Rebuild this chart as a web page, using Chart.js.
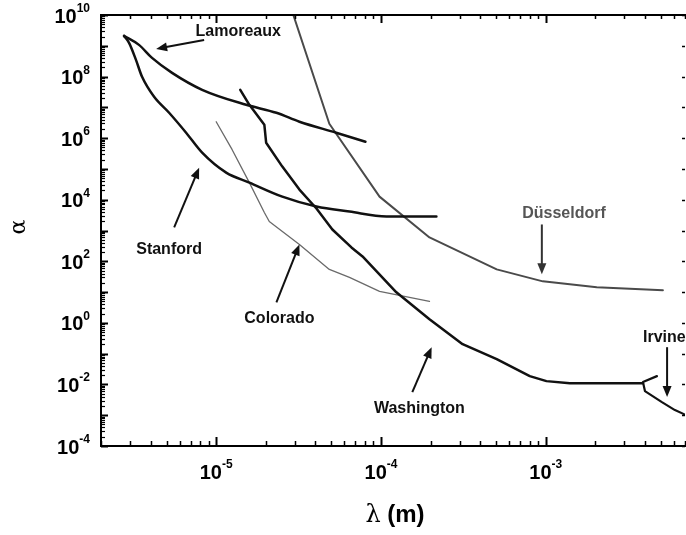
<!DOCTYPE html>
<html><head><meta charset="utf-8">
<script src="https://cdn.jsdelivr.net/npm/chart.js@4"></script>
<style>html,body{margin:0;padding:0;background:#fff}</style>
</head><body>
<canvas id="c" width="686" height="535"></canvas>
<script>
// ---- data ----
const lamoreauxX = [2.76e-6, 3.40e-6, 4.08e-6, 5.40e-6, 8.22e-6, 1.52e-5, 2.32e-5, 3.20e-5, 5.35e-5, 8.05e-5];
const lamoreauxY = [2.09e9, 1.07e9, 4.04e8, 1.32e8, 3.72e7, 1.21e7, 6.67e6, 3.41e6, 1.50e6, 7.67e5];

const stanfordX = [2.76e-6, 2.96e-6, 3.26e-6, 3.55e-6, 4.20e-6, 5.18e-6, 6.57e-6, 8.22e-6, 1.15e-5, 1.59e-5, 2.52e-5, 4.06e-5, 6.44e-5, 1.08e-4, 2.17e-4];
const stanfordY = [2.09e9, 1.24e9, 3.48e8, 9.8e7, 2.2e7, 6.67e6, 1.50e6, 3.37e5, 7.59e4, 3.60e4, 1.26e4, 6.0e3, 4.13e3, 2.85e3, 2.85e3];

const washingtonX = [1.40e-5, 1.59e-5, 1.96e-5, 2.01e-5, 2.52e-5, 3.20e-5, 4.06e-5, 5.07e-5, 6.62e-5, 7.73e-5, 1.24e-4, 1.97e-4, 3.13e-4, 5.04e-4, 8.0e-4, 1.01e-3, 1.40e-3, 3.89e-3];
const washingtonY = [3.72e7, 1.21e7, 2.73e6, 7.11e5, 1.19e5, 2.13e4, 5.17e3, 1.08e3, 282, 144, 9.8, 1.31, 0.203, 0.066, 0.0186, 0.0128, 0.0110, 0.0110];

const irvineX = [4.73e-3, 3.89e-3, 4.0e-3, 5.07e-3, 6.08e-3, 7.1e-3];
const irvineY = [0.0186, 0.0119, 6.07e-3, 2.67e-3, 1.47e-3, 1.01e-3];

const coloradoX = [1.0e-5, 1.25e-5, 1.59e-5, 1.96e-5, 2.10e-5, 3.20e-5, 4.86e-5, 6.44e-5, 9.8e-5, 1.97e-4];
const coloradoY = [3.41e6, 4.22e5, 3.60e4, 3.84e3, 1.96e3, 352, 54.6, 30, 10.6, 5.0];

const dusseldorfX = [2.94e-5, 4.86e-5, 9.8e-5, 1.97e-4, 5.04e-4, 9.6e-4, 2.04e-3, 5.14e-3];
const dusseldorfY = [1e10, 2.94e6, 1.26e4, 594, 54.6, 22.3, 14.3, 11.4];

// tick labels (exponents of ten)
const xTickExponents = [-5, -4, -3];
const yTickExponents = [10, 8, 6, 4, 2, 0, -2, -4];

// annotation labels with arrows (in data coordinates)
const annotations = [
  {text: 'Lamoreaux', x: 1.36e-5, y: 3.03e9, from: [8.45e-6, 1.55e9], to: [4.32e-6, 7.9e8], color: '#111', align: 'center'},
  {text: 'Stanford', x: 5.18e-6, y: 261, from: [5.56e-6, 1253], to: [7.88e-6, 1.1e5], color: '#111', align: 'center'},
  {text: 'Colorado', x: 2.42e-5, y: 1.52, from: [2.32e-5, 4.65], to: [3.2e-5, 352], color: '#111', align: 'center'},
  {text: 'Washington', x: 1.71e-4, y: 1.71e-3, from: [1.55e-4, 5.63e-3], to: [2.03e-4, 0.162], color: '#111', align: 'center'},
  {text: 'Düsseldorf', x: 1.29e-3, y: 3.84e3, from: [9.47e-4, 1.57e3], to: [9.47e-4, 37.6], color: '#555', align: 'center'},
  {text: 'Irvine', x: 3.89e-3, y: 0.368, from: [5.45e-3, 0.162], to: [5.45e-3, 3.88e-3], color: '#111', align: 'left'}
];

function pts(xs, ys) { return xs.map((x, i) => ({x: x, y: ys[i]})); }

const FONT = '"Liberation Sans", Arial, sans-serif';

function arrow(ctx, x1, y1, x2, y2, color) {
  const ang = Math.atan2(y2 - y1, x2 - x1);
  const L = 11, W = 4.5;
  ctx.save();
  ctx.strokeStyle = color; ctx.fillStyle = color; ctx.lineWidth = 2;
  ctx.beginPath();
  ctx.moveTo(x1, y1);
  ctx.lineTo(x2 - Math.cos(ang) * L * 0.8, y2 - Math.sin(ang) * L * 0.8);
  ctx.stroke();
  ctx.beginPath();
  ctx.moveTo(x2, y2);
  ctx.lineTo(x2 - Math.cos(ang) * L + Math.sin(ang) * W, y2 - Math.sin(ang) * L - Math.cos(ang) * W);
  ctx.lineTo(x2 - Math.cos(ang) * L - Math.sin(ang) * W, y2 - Math.sin(ang) * L + Math.cos(ang) * W);
  ctx.closePath();
  ctx.fill();
  ctx.restore();
}

function powLabel(ctx, exp, x, y, align) {
  const baseFont = 'bold 20px ' + FONT, supFont = 'bold 12px ' + FONT;
  const e = exp < 0 ? '-' + Math.abs(exp) : String(exp);
  ctx.font = baseFont; const wb = ctx.measureText('10').width;
  ctx.font = supFont; const ws = ctx.measureText(e).width;
  const total = wb + ws;
  let left = align === 'right' ? x - total : x - total / 2;
  ctx.fillStyle = '#000';
  ctx.textAlign = 'left';
  ctx.textBaseline = 'alphabetic';
  ctx.font = baseFont; ctx.fillText('10', left, y + 7.5);
  ctx.font = supFont; ctx.fillText(e, left + wb, y - 3);
}

const framePlugin = {
  id: 'frame',
  afterDatasetsDraw(chart) {
    const ctx = chart.ctx, a = chart.chartArea;
    const xs = chart.scales.x, ys = chart.scales.y;
    ctx.save();
    ctx.strokeStyle = '#000';
    // frame lines
    ctx.lineWidth = 2;
    ctx.beginPath();
    ctx.moveTo(a.left, a.top); ctx.lineTo(a.right + 2, a.top);
    ctx.moveTo(a.left, a.top - 1); ctx.lineTo(a.left, a.bottom + 1);
    ctx.moveTo(a.left - 1, a.bottom); ctx.lineTo(a.right + 2, a.bottom);
    ctx.stroke();
    // x ticks (bottom & top)
    for (let e = -6; e <= -2; e++) {
      for (let m = 1; m <= 9; m++) {
        const v = m * Math.pow(10, e);
        if (v < xs.min * 0.999 || v > xs.max * 1.001) continue;
        const px = Math.round(xs.getPixelForValue(v)) + 0.5;
        const major = m === 1;
        ctx.lineWidth = major ? 2 : 1.5;
        ctx.beginPath();
        ctx.moveTo(px, a.bottom); ctx.lineTo(px, a.bottom - (major ? 9 : 5));
        ctx.moveTo(px, a.top); ctx.lineTo(px, a.top + (major ? 8 : 4));
        ctx.stroke();
      }
    }
    // y ticks (left dense, right decades only)
    for (let e = -4; e <= 10; e++) {
      for (let m = 1; m <= 9; m++) {
        const v = m * Math.pow(10, e);
        if (v < ys.min * 0.999 || v > ys.max * 1.001) continue;
        const py = Math.round(ys.getPixelForValue(v)) + 0.5;
        const major = m === 1;
        ctx.lineWidth = major ? 2 : 1.2;
        ctx.beginPath();
        ctx.moveTo(a.left, py); ctx.lineTo(a.left + (major ? 7 : 4), py);
        ctx.stroke();
        if (major) {
          ctx.lineWidth = 1.5;
          ctx.beginPath();
          ctx.moveTo(a.right, py); ctx.lineTo(a.right - 3, py);
          ctx.stroke();
        }
      }
    }
    // tick labels
    xTickExponents.forEach(e => powLabel(ctx, e, xs.getPixelForValue(Math.pow(10, e)), 471, 'center'));
    yTickExponents.forEach(e => powLabel(ctx, e, 90, ys.getPixelForValue(Math.pow(10, e)), 'right'));
    // axis titles
    ctx.fillStyle = '#000';
    ctx.textBaseline = 'alphabetic';
    ctx.textAlign = 'left';
    ctx.font = '24px "DejaVu Serif", serif';
    const lw = ctx.measureText('λ').width;
    ctx.font = 'bold 24px ' + FONT;
    const rw = ctx.measureText(' (m)').width;
    const tx = 395 - (lw + rw) / 2;
    ctx.font = '24px "DejaVu Serif", serif';
    ctx.fillText('λ', tx, 522);
    ctx.font = 'bold 24px ' + FONT;
    ctx.fillText(' (m)', tx + lw, 522);
    ctx.save();
    ctx.translate(19, 227);
    ctx.rotate(-Math.PI / 2);
    ctx.textAlign = 'center';
    ctx.textBaseline = 'middle';
    ctx.font = '22px "DejaVu Serif", serif';
    ctx.fillText('α', 0, 0);
    ctx.restore();
    // annotations
    annotations.forEach(an => {
      const lx = xs.getPixelForValue(an.x), ly = ys.getPixelForValue(an.y);
      ctx.font = 'bold 16px ' + FONT;
      ctx.fillStyle = an.color;
      ctx.textAlign = an.align;
      ctx.textBaseline = 'middle';
      ctx.fillText(an.text, lx, ly + 1);
      arrow(ctx, xs.getPixelForValue(an.from[0]), ys.getPixelForValue(an.from[1]),
                 xs.getPixelForValue(an.to[0]), ys.getPixelForValue(an.to[1]), an.color === '#555' ? '#333' : '#111');
    });
    ctx.restore();
  }
};

const mk = (label, xs, ys, color, width, mode) => ({
  label, data: pts(xs, ys), borderColor: color, borderWidth: width,
  showLine: true, pointRadius: 0, fill: false,
  cubicInterpolationMode: mode || 'default', tension: 0,
  borderJoinStyle: 'round', borderCapStyle: 'round'
});

new Chart(document.getElementById('c'), {
  type: 'scatter',
  data: {
    datasets: [
      mk('Lamoreaux', lamoreauxX, lamoreauxY, '#111', 2.5, 'monotone'),
      mk('Stanford', stanfordX, stanfordY, '#111', 2.5, 'monotone'),
      mk('Washington', washingtonX, washingtonY, '#111', 2.5),
      mk('Irvine', irvineX, irvineY, '#111', 2.2),
      mk('Colorado', coloradoX, coloradoY, '#6a6a6a', 1.3),
      mk('Düsseldorf', dusseldorfX, dusseldorfY, '#4a4a4a', 2)
    ]
  },
  options: {
    responsive: false,
    animation: false,
    devicePixelRatio: 1,
    layout: {padding: {left: 0, right: 1, top: 15, bottom: 0}},
    plugins: {legend: {display: false}, tooltip: {enabled: false}},
    scales: {
      x: {
        type: 'logarithmic', min: 2e-6, max: 7e-3,
        grid: {display: false}, border: {display: false}, ticks: {display: false},
        afterFit(s) { s.height = 89; }
      },
      y: {
        type: 'logarithmic', min: 1e-4, max: 1e10,
        grid: {display: false}, border: {display: false}, ticks: {display: false},
        afterFit(s) { s.width = 101; }
      }
    }
  },
  plugins: [framePlugin]
});
</script>
</body></html>
